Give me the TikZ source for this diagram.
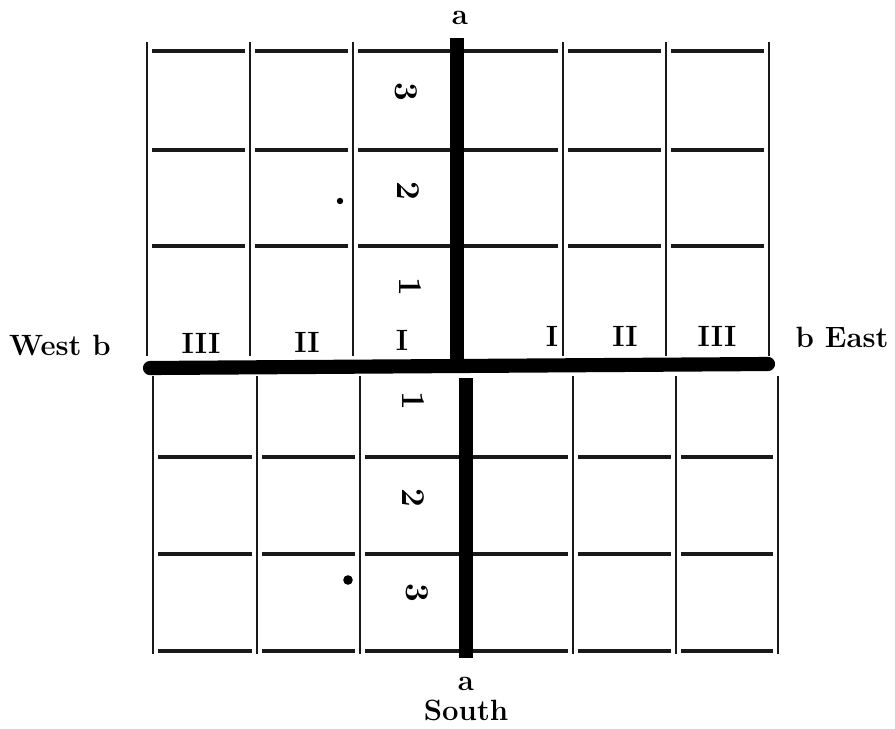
\documentclass[tikz,border=0pt]{standalone}
\usepackage{tikz}
\usetikzlibrary{positioning}
\begin{document}
\begin{tikzpicture}[x=0.375pt, y=-0.375pt,
        vline/.style={line width=0.8pt, black!90},
        hline/.style={line width=1.2pt, black!90},
        axisline/.style={line width=5.3pt, black},
        lbl/.style={font=\fontsize{11}{13}\selectfont\bfseries, inner sep=0pt},
        num/.style={font=\fontsize{12.5}{14}\selectfont\bfseries, inner sep=0pt, rotate=-90}
    ]
        \useasboundingbox (0,0) rectangle (895,728);

        % upper half of the grid
        \foreach \x in {147,250,353,563,666,769}
            \draw[vline] (\x,42) -- (\x,356);
        \foreach \y in {51,150,246}
            \foreach \xa/\xb in {147/250,250/353,353/457,457/563,563/666,666/769}
                \draw[hline] (\xa+5,\y) -- (\xb-5,\y);

        % lower half of the grid
        \foreach \x in {153,257,360,573,676,778}
            \draw[vline] (\x,376) -- (\x,654);
        \foreach \y in {457,554,651}
            \foreach \xa/\xb in {153/257,257/360,360/466,466/573,573/676,676/778}
                \draw[hline] (\xa+5,\y) -- (\xb-5,\y);

        % the axes
        \coordinate (aN) at (457,38);
        \coordinate (aC) at (457,362);
        \coordinate (aT) at (466,378);
        \coordinate (aS) at (466,658);
        \coordinate (bW) at (150,368);
        \coordinate (bE) at (768,364);
        \draw[axisline] (aN) -- (aC);
        \draw[axisline] (aT) -- (aS);
        \draw[axisline, line cap=round] (bW) -- (bE);

        % end labels
        \node[lbl] (topa) at (460,18) {a};
        \node[lbl] (bota) at (466,684) {a};
        \node[lbl, below=3pt of bota] (south) {South};
        \node[lbl] (west) at (60,345) {West b};
        \node[lbl] (east) at (842,337) {b East};

        % columns along b
        \node[lbl] (w3) at (201,343) {III};
        \node[lbl] (w2) at (307,342) {II};
        \node[lbl] (w1) at (402,340) {I};
        \node[lbl] (e1) at (552,336) {I};
        \node[lbl] (e2) at (625,336) {II};
        \node[lbl] (e3) at (717,336) {III};

        % rows along a
        \node[num] (n3) at (406,92) {3};
        \node[num] (n2) at (408,191) {2};
        \node[num] (n1) at (410,287) {1};
        \node[num] (s1) at (413,401) {1};
        \node[num] (s2) at (413,498) {2};
        \node[num] (s3) at (417,593) {3};

        % specks
        \fill (340,201) circle (1.2pt);
        \fill (348,580) circle (1.8pt);
    \end{tikzpicture}
\end{document}
